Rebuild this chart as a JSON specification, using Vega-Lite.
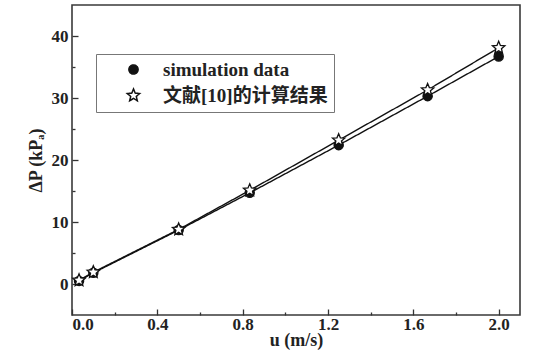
{
  "$schema": "https://vega.github.io/schema/vega-lite/v6.json",
  "width": 448,
  "height": 310,
  "autosize": "none",
  "padding": {"left": 72, "top": 5, "right": 36, "bottom": 40},
  "background": "white",
  "config": {
    "view": {"stroke": "#3a3a3a", "strokeWidth": 1.6},
    "font": "Liberation Serif",
    "axis": {
      "grid": false,
      "domain": false,
      "tickColor": "#333",
      "tickWidth": 1.3,
      "labelFont": "Liberation Serif",
      "labelFontSize": 17,
      "labelFontWeight": "bold",
      "labelColor": "#222",
      "titleFont": "Liberation Serif",
      "titleFontSize": 18,
      "titleFontWeight": "bold",
      "titleColor": "#222"
    },
    "legend": {
      "orient": "none",
      "legendX": 24,
      "legendY": 49,
      "padding": 6,
      "strokeColor": "#777",
      "fillColor": "white",
      "labelFont": "Liberation Serif, Noto Sans CJK SC",
      "labelFontSize": 19,
      "labelFontWeight": "bold",
      "labelColor": "#222",
      "labelLimit": 400,
      "rowPadding": 5,
      "symbolOffset": 22,
      "labelOffset": 20
    }
  },
  "data": {
    "values": [
      {"series": "simulation data", "u": 0.033, "dp": 0.5},
      {"series": "simulation data", "u": 0.1, "dp": 1.8},
      {"series": "simulation data", "u": 0.5, "dp": 8.7},
      {"series": "simulation data", "u": 0.833, "dp": 14.7},
      {"series": "simulation data", "u": 1.25, "dp": 22.4},
      {"series": "simulation data", "u": 1.667, "dp": 30.3},
      {"series": "simulation data", "u": 2.0, "dp": 36.7},
      {"series": "文献[10]的计算结果", "u": 0.033, "dp": 0.6},
      {"series": "文献[10]的计算结果", "u": 0.1, "dp": 1.9},
      {"series": "文献[10]的计算结果", "u": 0.5, "dp": 8.8},
      {"series": "文献[10]的计算结果", "u": 0.833, "dp": 15.1},
      {"series": "文献[10]的计算结果", "u": 1.25, "dp": 23.2},
      {"series": "文献[10]的计算结果", "u": 1.667, "dp": 31.3},
      {"series": "文献[10]的计算结果", "u": 2.0, "dp": 38.1}
    ]
  },
  "encoding": {
    "x": {
      "field": "u",
      "type": "quantitative",
      "scale": {"domain": [0, 2.1], "nice": false, "zero": false},
      "axis": {
        "title": "u    (m/s)",
        "values": [0, 0.2, 0.4, 0.6, 0.8, 1.0, 1.2, 1.4, 1.6, 1.8, 2.0],
        "labelExpr": "round(datum.value*10) % 4 == 0 ? format(datum.value, '.1f') : ''",
        "tickSize": {"condition": {"test": "round(datum.value*10) % 4 != 0", "value": -3}, "value": -6},
        "labelPadding": 7,
        "titlePadding": -1
      }
    },
    "y": {
      "field": "dp",
      "type": "quantitative",
      "scale": {"domain": [-5, 45], "nice": false, "zero": false},
      "axis": {
        "title": "ΔP (kPₐ)",
        "values": [0, 5, 10, 15, 20, 25, 30, 35, 40],
        "labelExpr": "datum.value % 10 == 0 ? datum.label : ''",
        "tickSize": {"condition": {"test": "datum.value % 10 != 0", "value": -3}, "value": -6},
        "labelPadding": 10,
        "titlePadding": 6
      }
    }
  },
  "layer": [
    {
      "mark": {"type": "line", "color": "#111", "strokeWidth": 1.4},
      "encoding": {
        "strokeDash": {
          "field": "series",
          "type": "nominal",
          "scale": {"domain": ["simulation data", "文献[10]的计算结果"], "range": [[1, 0], [1, 0]]},
          "legend": {
            "title": null,
            "encode": {
              "symbols": {
                "shape": {
                  "condition": {"test": "datum.value === 'simulation data'", "value": "circle"},
                  "value": "M0,-1 L0.264,-0.364 L0.951,-0.309 L0.428,0.139 L0.588,0.809 L0,0.45 L-0.588,0.809 L-0.428,0.139 L-0.951,-0.309 L-0.264,-0.364 Z"
                },
                "fill": {
                  "condition": {"test": "datum.value === 'simulation data'", "value": "#111"},
                  "value": "white"
                },
                "size": {"value": 80},
                "stroke": {"value": "#111"},
                "strokeWidth": {"value": 1.3},
                "strokeDash": {"value": [1, 0]},
                "opacity": {"value": 1}
              }
            }
          }
        }
      }
    },
    {
      "mark": {"type": "point", "filled": true, "stroke": "#111", "strokeWidth": 1.3, "opacity": 1},
      "encoding": {
        "fill": {
          "field": "series",
          "scale": {"domain": ["simulation data", "文献[10]的计算结果"], "range": ["#111", "white"]},
          "legend": null
        },
        "shape": {
          "field": "series",
          "scale": {
            "domain": ["simulation data", "文献[10]的计算结果"],
            "range": ["circle", "M0,-1 L0.264,-0.364 L0.951,-0.309 L0.428,0.139 L0.588,0.809 L0,0.45 L-0.588,0.809 L-0.428,0.139 L-0.951,-0.309 L-0.264,-0.364 Z"]
          },
          "legend": null
        },
        "size": {
          "field": "series",
          "scale": {"domain": ["simulation data", "文献[10]的计算结果"], "range": [85, 170]},
          "legend": null
        }
      }
    }
  ]
}
